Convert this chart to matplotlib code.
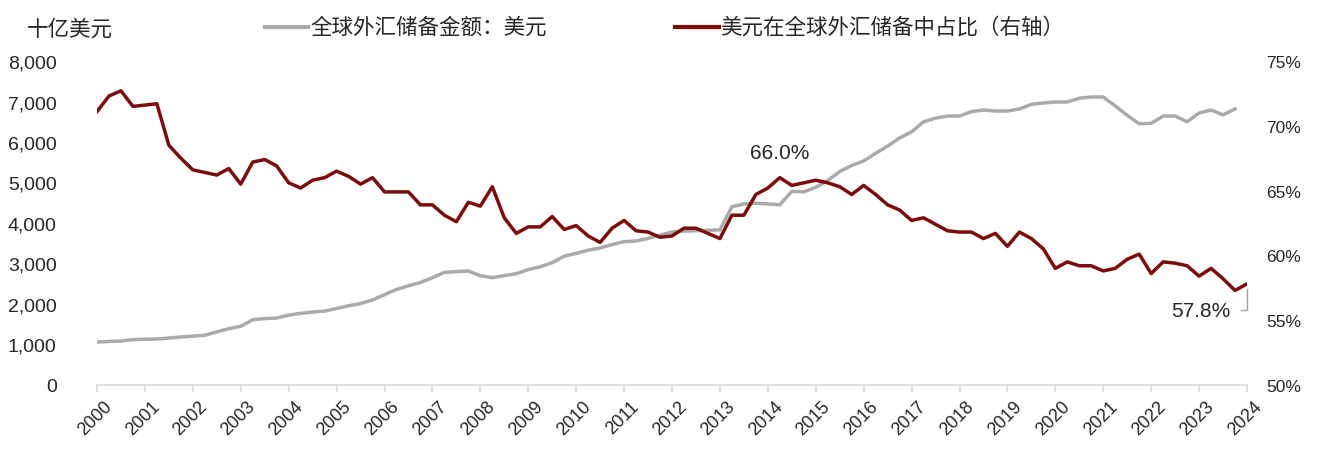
import matplotlib
matplotlib.use("Agg")
import matplotlib.pyplot as plt
import matplotlib.transforms as mtransforms
from matplotlib.lines import Line2D
from matplotlib.ticker import FuncFormatter
import numpy as np
import pandas as pd

plt.rcParams['font.family'] = ['Liberation Sans', 'Noto Sans CJK SC', 'DejaVu Sans']

# ---------------- data ----------------
quarters = pd.period_range('2000Q1', '2024Q1', freq='Q')

# USD share of global FX reserves (%), right axis, 2000Q1-2024Q1
usd_share = [
    71.1, 72.3, 72.7, 71.5, 71.6, 71.7, 68.5, 67.5,   # 2000-2001
    66.6, 66.4, 66.2, 66.7, 65.5, 67.2, 67.4, 66.9,   # 2002-2003
    65.6, 65.2, 65.8, 66.0, 66.5, 66.1, 65.5, 66.0,   # 2004-2005
    64.9, 64.9, 64.9, 63.9, 63.9, 63.1, 62.6, 64.1,   # 2006-2007
    63.8, 65.3, 62.9, 61.7, 62.2, 62.2, 63.0, 62.0,   # 2008-2009
    62.3, 61.5, 61.0, 62.1, 62.7, 61.9, 61.8, 61.4,   # 2010-2011
    61.5, 62.1, 62.1, 61.7, 61.3, 63.1, 63.1, 64.7,   # 2012-2013
    65.2, 66.0, 65.4, 65.6, 65.8, 65.6, 65.3, 64.7,   # 2014-2015
    65.4, 64.7, 63.9, 63.5, 62.7, 62.9, 62.4, 61.9,   # 2016-2017
    61.8, 61.8, 61.3, 61.7, 60.7, 61.8, 61.3, 60.5,   # 2018-2019
    59.0, 59.5, 59.2, 59.2, 58.8, 59.0, 59.7, 60.1,   # 2020-2021
    58.6, 59.5, 59.4, 59.2, 58.4, 59.0, 58.2, 57.3,   # 2022-2023
    57.8,                                             # 2024Q1
]

# Global FX reserves held in USD (billion USD), left axis, 2000Q1-2023Q4
usd_amount = [
    1060, 1075, 1085, 1120, 1130, 1136, 1160, 1185,
    1205, 1230, 1310, 1390, 1450, 1610, 1640, 1654,
    1725, 1770, 1800, 1825, 1890, 1955, 2010, 2100,
    2230, 2360, 2450, 2530, 2650, 2780, 2800, 2815,
    2700, 2650, 2700, 2750, 2850, 2920, 3020, 3180,
    3250, 3330, 3383, 3470, 3540, 3556, 3620, 3700,
    3778, 3800, 3810, 3820, 3830, 4400, 4469, 4490,
    4470, 4450, 4780, 4770, 4880, 5050, 5270, 5420,
    5531, 5720, 5900, 6100, 6250, 6500, 6590, 6640,
    6642, 6750, 6790, 6765, 6765, 6815, 6930, 6963,
    6988, 6988, 7080, 7111, 7111, 6890, 6660, 6450,
    6460, 6640, 6642, 6500, 6716, 6790, 6670, 6815,
]

year_ticks = list(range(2000, 2025))
left_ticks = [0, 1000, 2000, 3000, 4000, 5000, 6000, 7000, 8000]
right_ticks = [50, 55, 60, 65, 70, 75]

label_amount = '全球外汇储备金额：美元'
label_share = '美元在全球外汇储备中占比（右轴）'
unit_label = '十亿美元'

# ---------------- style ----------------
c_gray = '#aaaaaa'
c_red = '#7a0c0c'
c_axis = '#d9d9d9'
c_text = '#262626'
cjk = ['Noto Sans CJK SC', 'DejaVu Sans']

x_share = np.array([p.year + (p.quarter - 1) / 4 for p in quarters])
x_amount = x_share[:len(usd_amount)]

W, H = 1317, 456
fig = plt.figure(figsize=(W / 100, H / 100), dpi=100)
ax = fig.add_axes([97 / W, 1 - 386 / H, 1150 / W, 324 / H])
ax2 = ax.twinx()

ax.plot(x_amount, usd_amount, color=c_gray, lw=2.5, solid_joinstyle='round', zorder=2)
ax2.plot(x_share, usd_share, color=c_red, lw=2.5, solid_joinstyle='round', zorder=3)

ax.set_xlim(2000, 2024)
ax.set_ylim(0, 8000)
ax2.set_ylim(50, 75)

for a in (ax, ax2):
    for s in ('top', 'left', 'right', 'bottom'):
        a.spines[s].set_visible(False)
ax.spines['bottom'].set_visible(True)
ax.spines['bottom'].set_color(c_axis)
ax.spines['bottom'].set_linewidth(1.2)

ax.set_xticks(year_ticks)
ax.set_xticklabels([str(y) for y in year_ticks], rotation=45, ha='right',
                   rotation_mode='anchor', fontsize=13, color=c_text)
ax.tick_params(axis='x', length=5, width=1.2, color=c_axis, pad=4)
offset = mtransforms.ScaledTranslation(6 / 100, 0, fig.dpi_scale_trans)
for lab in ax.get_xticklabels():
    lab.set_transform(lab.get_transform() + offset)

ax.set_yticks(left_ticks)
ax.yaxis.set_major_formatter(FuncFormatter(lambda v, p: f'{v:,.0f}'))
ax.tick_params(axis='y', length=0, pad=29, labelsize=14, labelcolor=c_text)

ax2.set_yticks(right_ticks)
ax2.yaxis.set_major_formatter(FuncFormatter(lambda v, p: f'{v:.0f}%'))
ax2.tick_params(axis='y', length=0, pad=14, labelsize=12.5, labelcolor=c_text)

# annotations
i_peak = int(np.argmax(usd_share[40:])) + 40
ax2.annotate(f'{usd_share[i_peak]:.1f}%', xy=(x_share[i_peak], usd_share[i_peak]),
             xytext=(0, 18), textcoords='offset points', ha='center', va='center',
             fontsize=15, color=c_text)
ax2.annotate(f'{usd_share[-1]:.1f}%', xy=(x_share[-1], usd_share[-1]),
             xytext=(-12, -19), textcoords='offset points', ha='right', va='center',
             fontsize=15, color=c_text,
             arrowprops=dict(arrowstyle='-', color='#a0a0a0', lw=1,
                             connectionstyle='angle,angleA=0,angleB=90,rad=0',
                             shrinkA=6, shrinkB=4))

# unit label and legend
fig.text(27 / W, 1 - 30 / H, unit_label, fontsize=15.5, family=cjk, color=c_text,
         ha='left', va='center')
ly = 1 - 28 / H
fig.add_artist(Line2D([265 / W, 308 / W], [ly, ly], color=c_gray, lw=3,
                      transform=fig.transFigure))
fig.text(310 / W, ly, label_amount, fontsize=15.5, family=cjk, color=c_text,
         ha='left', va='center')
fig.add_artist(Line2D([675 / W, 719 / W], [ly, ly], color=c_red, lw=3,
                      transform=fig.transFigure))
fig.text(720 / W, ly, label_share, fontsize=15.5, family=cjk, color=c_text,
         ha='left', va='center')

fig.savefig('out.png', dpi=100)
